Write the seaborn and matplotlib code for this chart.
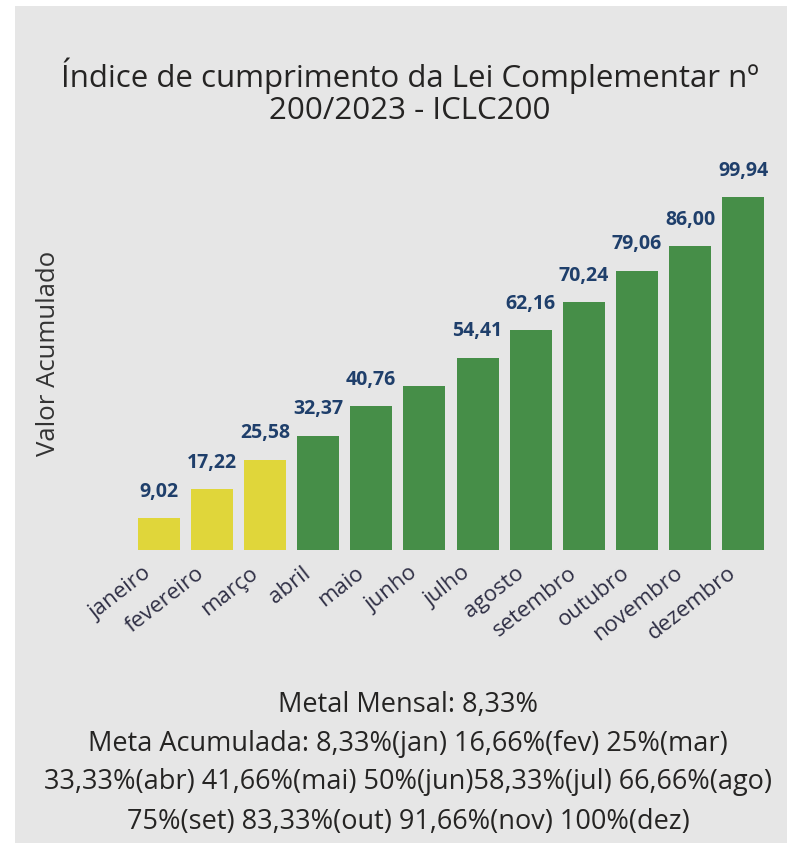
import matplotlib.pyplot as plt
import seaborn as sns
from matplotlib.patches import Rectangle
from matplotlib.transforms import ScaledTranslation

# dados do grafico
meses = ['janeiro', 'fevereiro', 'março', 'abril', 'maio', 'junho', 'julho',
         'agosto', 'setembro', 'outubro', 'novembro', 'dezembro']
valores = [9.02, 17.22, 25.58, 32.37, 40.76, 46.4, 54.41, 62.16, 70.24, 79.06, 86.00, 99.94]
rotulos = ['9,02', '17,22', '25,58', '32,37', '40,76', '', '54,41', '62,16',
           '70,24', '79,06', '86,00', '99,94']
cores = ['#e0d63a'] * 3 + ['#468e48'] * 9

titulo = 'Índice de cumprimento da Lei Complementar nº\n200/2023 - ICLC200'
nota = ['Metal Mensal: 8,33%',
        'Meta Acumulada: 8,33%(jan) 16,66%(fev) 25%(mar)',
        '33,33%(abr) 41,66%(mai) 50%(jun)58,33%(jul) 66,66%(ago)',
        '75%(set) 83,33%(out) 91,66%(nov) 100%(dez)']

sns.set_style('white')
plt.rcParams['font.family'] = ['Open Sans', 'DejaVu Sans']

W, H = 787, 843
fig = plt.figure(figsize=(W / 100, H / 100), dpi=100)
fig.patch.set_facecolor('white')
fig.patches.append(Rectangle((15 / W, 0), 1, (H - 6) / H, transform=fig.transFigure,
                             facecolor='#e6e6e6', edgecolor='none', zorder=-10))

ax = fig.add_axes([132 / W, (H - 550) / H, 638 / W, (550 - 179) / H])
ax.set_facecolor('none')
sns.barplot(x=meses, y=valores, hue=meses, palette=cores, legend=False,
            width=0.79, saturation=1, linewidth=0, ax=ax)
ax.set_xlim(-0.5, 11.5)
ax.set_ylim(0, 105)
sns.despine(ax=ax, left=True, bottom=True)
ax.set_yticks([])
ax.set_ylabel('')
ax.set_xlabel('')

for i, (v, r) in enumerate(zip(valores, rotulos)):
    if r:
        ax.text(i, v + 4.6, r, ha='center', va='bottom', fontsize=14,
                fontweight='bold', color='#1f3f6b')

ax.tick_params(axis='x', length=0, pad=9)
ax.set_xticks(range(len(meses)))
ax.set_xticklabels(meses, rotation=38, ha='right', va='top',
                   rotation_mode='anchor', fontsize=16, color='#2f2f45')
desloc = ScaledTranslation(-16 / 100, 0, fig.dpi_scale_trans)
for t in ax.get_xticklabels():
    t.set_transform(t.get_transform() + desloc)

fig.text(49 / W, 1 - 353 / H, 'Valor Acumulado', rotation=90, ha='center', va='center',
         fontsize=18.5, fontweight='medium', color='#333333')

fig.text(410 / W, 1 - 92 / H, titulo, ha='center', va='center', fontsize=22.5,
         color='#252423', linespacing=1.1)

ys = [705, 744, 782, 822]
for linha, y in zip(nota, ys):
    fig.text(408 / W, 1 - y / H, linha, ha='center', va='center', fontsize=19.5,
             color='#252423')

fig.savefig('out.png', dpi=100, facecolor=fig.get_facecolor())
